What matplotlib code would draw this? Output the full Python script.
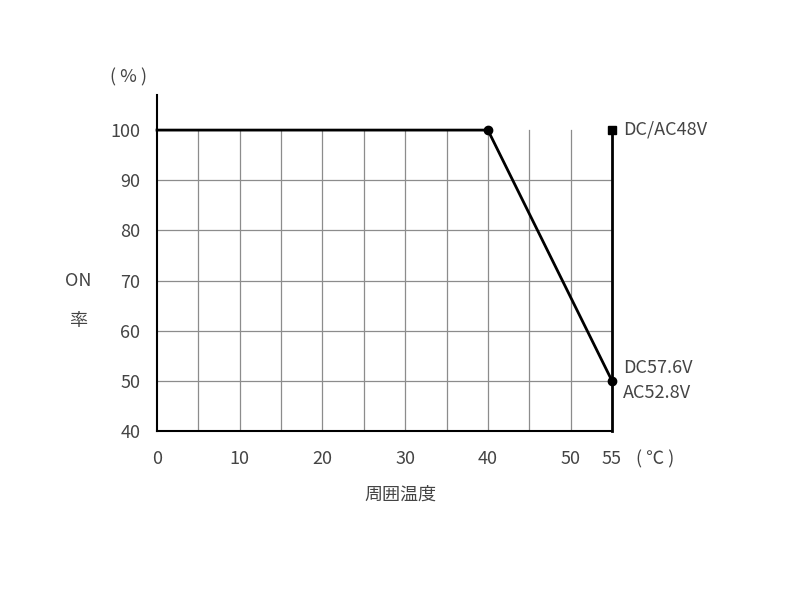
import matplotlib
matplotlib.use('Agg')
import matplotlib.pyplot as plt

plt.rcParams['font.family'] = ['Noto Sans CJK JP', 'DejaVu Sans']

# derating curve
temp = [0, 40, 55]
on_rate = [100, 100, 50]
xticks = [0, 10, 20, 30, 40, 50, 55]
yticks = [40, 50, 60, 70, 80, 90, 100]

fig = plt.figure(figsize=(8, 6), dpi=100)
ax = fig.add_axes([0.19625, 0.2817, 0.56875, 0.56])
ax.set_xlim(0, 55)
ax.set_ylim(40, 107)

# grid (only inside 40..100)
for x in range(5, 55, 5):
    ax.plot([x, x], [40, 100], color='#8c8c8c', lw=0.9, zorder=1)
for y in range(50, 100, 10):
    ax.plot([0, 55], [y, y], color='#8c8c8c', lw=0.9, zorder=1)

ax.plot(temp, on_rate, color='black', lw=2, zorder=3, clip_on=False)
ax.plot([55, 55], [40, 100], color='black', lw=2, zorder=3, clip_on=False)
ax.plot([40, 55], [100, 50], 'o', color='black', ms=6, zorder=4, clip_on=False)
ax.plot([55], [100], 's', color='black', ms=6, zorder=4, clip_on=False)

for s in ['top', 'right']:
    ax.spines[s].set_visible(False)
ax.spines['left'].set_linewidth(1.5)
ax.spines['bottom'].set_linewidth(1.5)
ax.tick_params(length=0, labelsize=13, colors='#444444')
ax.tick_params(axis='y', pad=12)
ax.tick_params(axis='x', pad=14)
ax.set_xticks(xticks)
ax.set_yticks(yticks)

tc = '#444444'
fs = 13
fig.text(128 / 800, 1 - 77 / 600, '( % )', fontsize=fs, color=tc, ha='center', va='center')
fig.text(78 / 800, 1 - 281 / 600, 'ON', fontsize=fs, color=tc, ha='center', va='center')
fig.text(78 / 800, 1 - 321 / 600, '率', fontsize=fs, color=tc, ha='center', va='center')
fig.text(400 / 800, 1 - 495 / 600, '周囲温度', fontsize=fs, color=tc, ha='center', va='center')
fig.text(655 / 800, 1 - 459 / 600, '( ℃ )', fontsize=fs, color=tc, ha='center', va='center')
fig.text(623 / 800, 1 - 130 / 600, 'DC/AC48V', fontsize=fs, color=tc, ha='left', va='center')
fig.text(623 / 800, 1 - 368 / 600, 'DC57.6V', fontsize=fs, color=tc, ha='left', va='center')
fig.text(623 / 800, 1 - 393 / 600, 'AC52.8V', fontsize=fs, color=tc, ha='left', va='center')

fig.savefig('out.png', dpi=100)
